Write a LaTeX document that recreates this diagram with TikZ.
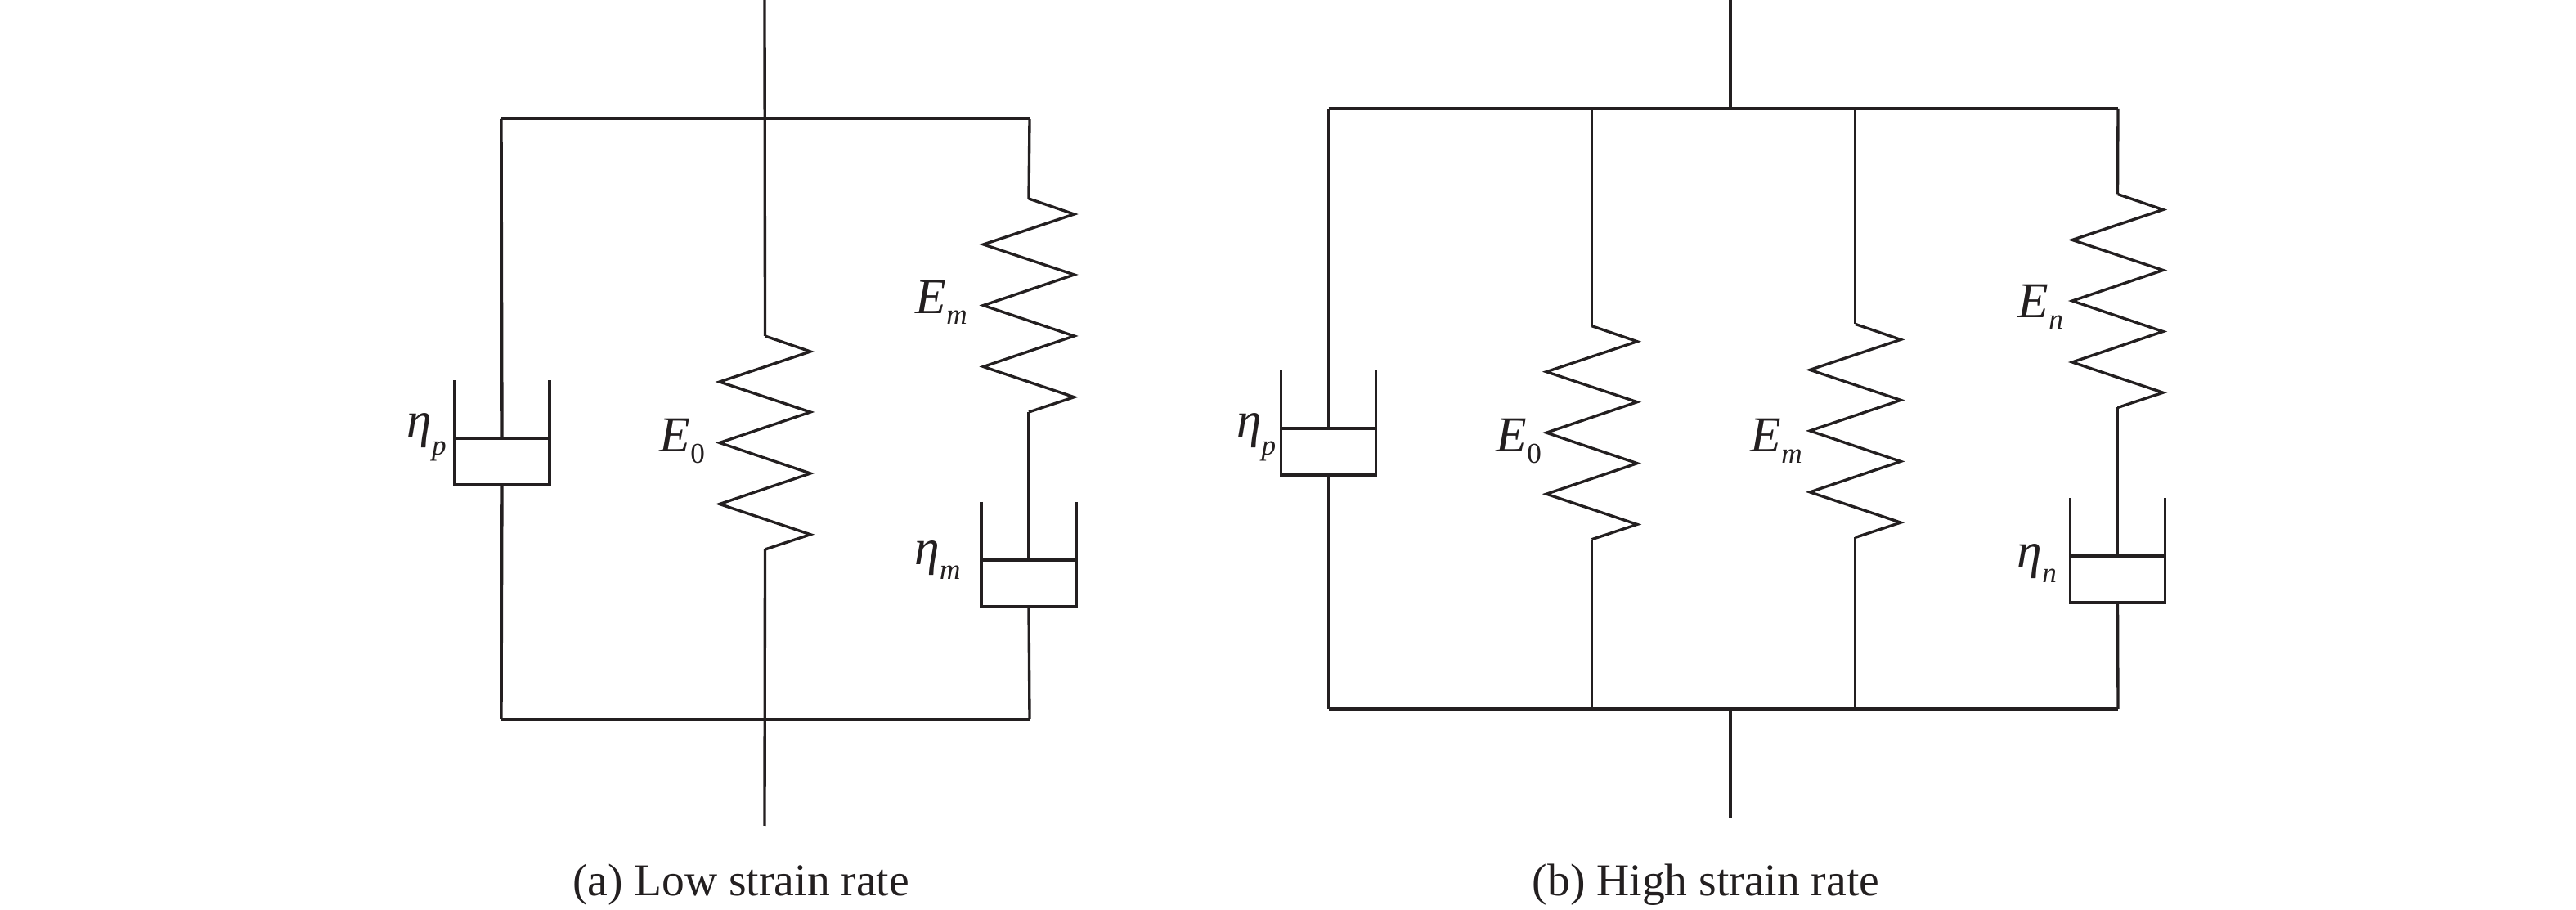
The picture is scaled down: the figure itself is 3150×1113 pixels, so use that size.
\documentclass[tikz,border=0pt]{standalone}
\usepackage{fontspec}
\setmainfont{Liberation Serif}
\definecolor{ink}{HTML}{231F20}
\newcommand{\symb}[3]{{\fontsize{17.5}{18}\selectfont\itshape #1}\raisebox{-#3pt}{\fontsize{10}{10}\selectfont #2}}
\newcommand{\springunit}[3]{%
  \begin{scope}[shift={(#2,#3)}]
    \coordinate (#1-in) at (0,0);
    \coordinate (#1-out) at (0,261);
    \draw[wire] (#1-in) -- (55.5,19) -- (-55.5,56) -- (55.5,93) -- (-55.5,130.5)
      -- (55.5,168) -- (-55.5,205.5) -- (55.5,242.7) -- (#1-out);
  \end{scope}}
\newcommand{\dashunit}[3]{%
  \begin{scope}[shift={(#2,#3)}]
    \coordinate (#1-rod) at (0,71);
    \coordinate (#1-out) at (0,128);
    \draw[wire] (-58,0) -- (-58,128) -- (58,128) -- (58,0);
    \draw[wire] (-58,71) -- (58,71);
  \end{scope}}
\begin{document}
\begin{tikzpicture}[x=0.01cm,y=-0.01cm,
  wire/.style={draw=ink,line width=0.95pt,line join=miter},
  lab/.style={anchor=base west,inner sep=0pt,text=ink},
  captext/.style={anchor=base,inner sep=0pt,text=ink,font=\fontsize{15.8}{18}\selectfont}]
\useasboundingbox (0,0) rectangle (3150,1113);

% ---------- (a) Low strain rate
\coordinate (aTopEnd) at (935,0);
\coordinate (aBotEnd) at (935,1010);
\coordinate (aTL) at (613,145);
\coordinate (aTC) at (935,145);
\coordinate (aTR) at (1259,145);
\coordinate (aBL) at (613,880);
\coordinate (aBC) at (935,880);
\coordinate (aBR) at (1259,880);
\draw[wire] (aTL) -- (aTR);
\draw[wire] (aBL) -- (aBR);
\dashunit{aP}{614}{465}
\springunit{aZ}{935.5}{411}
\springunit{aM}{1258}{243}
\dashunit{aD}{1258}{614}
\draw[wire] (aTL) -- (aP-rod);
\draw[wire] (aP-out) -- (aBL);
\draw[wire] (aTopEnd) -- (aZ-in);
\draw[wire] (aZ-out) -- (aBotEnd);
\draw[wire] (aTR) -- (aM-in);
\draw[wire] (aM-out) -- (aD-rod);
\draw[wire] (aD-out) -- (aBR);
\node[lab] (la1) at (497,535) {\symb{η}{\itshape p}{6}};
\node[lab] (la2) at (806,553) {\symb{E}{0}{3.8}};
\node[lab] (la3) at (1119,383.5) {\symb{E}{\itshape m}{3.8}};
\node[lab] (la4) at (1118,691) {\symb{η}{\itshape m}{5}};
\node[captext] (capa) at (906,1096) {(a) Low strain rate};

% ---------- (b) High strain rate
\coordinate (bTopEnd) at (2116,0);
\coordinate (bBotEnd) at (2116,1001);
\coordinate (bTL) at (1624.5,133);
\coordinate (bTC) at (2116,133);
\coordinate (bT0) at (1946.5,133);
\coordinate (bTM) at (2268.7,133);
\coordinate (bTR) at (2590,133);
\coordinate (bBL) at (1624.5,867);
\coordinate (bBC) at (2116,867);
\coordinate (bB0) at (1946.5,867);
\coordinate (bBM) at (2268.7,867);
\coordinate (bBR) at (2590,867);
\draw[wire] (bTL) -- (bTR);
\draw[wire] (bBL) -- (bBR);
\draw[wire] (bTopEnd) -- (bTC);
\draw[wire] (bBC) -- (bBotEnd);
\dashunit{bP}{1624.5}{453}
\springunit{bZ}{1946.5}{398.7}
\springunit{bM}{2268.7}{396.4}
\springunit{bN}{2589.5}{237.5}
\dashunit{bD}{2589.5}{609}
\draw[wire] (bTL) -- (bP-rod);
\draw[wire] (bP-out) -- (bBL);
\draw[wire] (bT0) -- (bZ-in);
\draw[wire] (bZ-out) -- (bB0);
\draw[wire] (bTM) -- (bM-in);
\draw[wire] (bM-out) -- (bBM);
\draw[wire] (bTR) -- (bN-in);
\draw[wire] (bN-out) -- (bD-rod);
\draw[wire] (bD-out) -- (bBR);
\node[lab] (lb1) at (1511.5,535) {\symb{η}{\itshape p}{6}};
\node[lab] (lb2) at (1829,553) {\symb{E}{0}{3.8}};
\node[lab] (lb3) at (2140,553) {\symb{E}{\itshape m}{3.8}};
\node[lab] (lb4) at (2467,389) {\symb{E}{\itshape n}{3.8}};
\node[lab] (lb5) at (2466,695) {\symb{η}{\itshape n}{5}};
\node[captext] (capb) at (2086,1096) {(b) High strain rate};
\end{tikzpicture}
\end{document}
